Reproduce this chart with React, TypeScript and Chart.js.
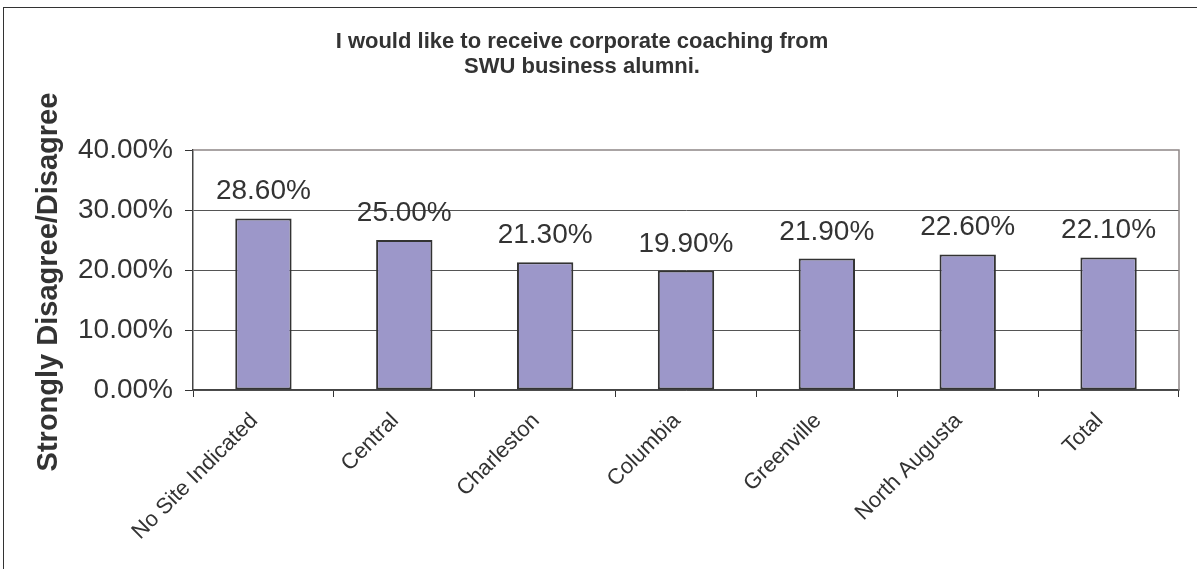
import { useEffect, useRef } from "react";
import { Chart, registerables } from "chart.js";

Chart.register(...registerables);

const categories = [
  "No Site Indicated",
  "Central",
  "Charleston",
  "Columbia",
  "Greenville",
  "North Augusta",
  "Total",
];
const values = [28.6, 25.0, 21.3, 19.9, 21.9, 22.6, 22.1];
const yTicks = [0, 10, 20, 30, 40];
const titleLines = [
  "I would like to receive corporate coaching from",
  "SWU business alumni.",
];
const yAxisTitle = "Strongly Disagree/Disagree";

const FONT = '"Liberation Sans", Arial, Helvetica, sans-serif';
const TEXT = "#333333";

const overlay = {
  id: "overlay",
  afterDatasetsDraw(chart: any) {
    const ctx = chart.ctx;
    const meta = chart.getDatasetMeta(0);
    ctx.save();
    ctx.font = `28px ${FONT}`;
    ctx.fillStyle = TEXT;
    ctx.textAlign = "center";
    ctx.textBaseline = "alphabetic";
    meta.data.forEach((bar: any, i: number) => {
      ctx.fillText(values[i].toFixed(2) + "%", bar.x, bar.y - 19);
    });
    ctx.restore();
  },
  afterDraw(chart: any) {
    const ctx = chart.ctx;
    const a = chart.chartArea;
    ctx.save();
    ctx.strokeStyle = "#8f8787";
    ctx.lineWidth = 1.5;
    ctx.beginPath();
    ctx.moveTo(a.left, a.top);
    ctx.lineTo(a.right, a.top);
    ctx.lineTo(a.right, a.bottom);
    ctx.stroke();

    ctx.fillStyle = TEXT;
    ctx.font = `bold 22px ${FONT}`;
    ctx.textAlign = "center";
    ctx.textBaseline = "alphabetic";
    titleLines.forEach((line, i) => ctx.fillText(line, 578, 40 + i * 25));

    ctx.translate(45, 274);
    ctx.rotate(-Math.PI / 2);
    ctx.font = `bold 29px ${FONT}`;
    ctx.textBaseline = "middle";
    ctx.fillText(yAxisTitle, 0, 0);
    ctx.restore();
  },
};

export default function App() {
  const ref = useRef<HTMLCanvasElement | null>(null);

  useEffect(() => {
    if (!ref.current) return;
    const chart = new Chart(ref.current, {
      type: "bar",
      data: {
        labels: categories,
        datasets: [
          {
            data: values,
            backgroundColor: "#9c97c9",
            borderColor: "#333333",
            borderWidth: 2,
            borderSkipped: false,
            barPercentage: 0.4,
            categoryPercentage: 1,
          },
        ],
      },
      options: {
        animation: false,
        responsive: true,
        maintainAspectRatio: false,
        layout: { padding: { top: 142, right: 18, left: 0, bottom: 0 } },
        plugins: {
          legend: { display: false },
          title: { display: false },
          tooltip: { enabled: false },
        },
        scales: {
          x: {
            grid: {
              offset: true,
              drawOnChartArea: false,
              drawTicks: true,
              tickLength: 7,
              color: "#333333",
              lineWidth: 1,
            },
            border: { color: "#444444", width: 1.5 },
            ticks: {
              color: TEXT,
              font: { family: FONT, size: 22 },
              minRotation: 45,
              maxRotation: 45,
              autoSkip: false,
              padding: 11,
              labelOffset: -9,
            },
            afterFit: (s: any) => {
              s.height = 179;
            },
          },
          y: {
            min: 0,
            max: 40,
            afterBuildTicks: (s: any) => {
              s.ticks = yTicks.map((v) => ({ value: v }));
            },
            ticks: {
              callback: (v: any) => Number(v).toFixed(2) + "%",
              color: TEXT,
              font: { family: FONT, size: 28 },
              padding: 12,
            },
            grid: {
              color: (c: any) =>
                c.tick && c.tick.value === 40 ? "rgba(0,0,0,0)" : "#555555",
              lineWidth: 1,
              tickLength: 8,
              tickColor: "#333333",
              drawTicks: true,
            },
            border: { color: "#444444", width: 1.5 },
            afterFit: (s: any) => {
              s.width = 189;
            },
          },
        },
      },
      plugins: [overlay],
    });
    return () => chart.destroy();
  }, []);

  return (
    <div
      style={{
        position: "absolute",
        left: 3,
        top: 7,
        width: 1194,
        height: 562,
        borderLeft: "1px solid #333",
        borderTop: "1px solid #333",
        boxSizing: "border-box",
        background: "#fff",
      }}
    >
      <div style={{ position: "absolute", left: 0, top: 0, width: 1193, height: 561 }}>
        <canvas ref={ref} />
      </div>
    </div>
  );
}
